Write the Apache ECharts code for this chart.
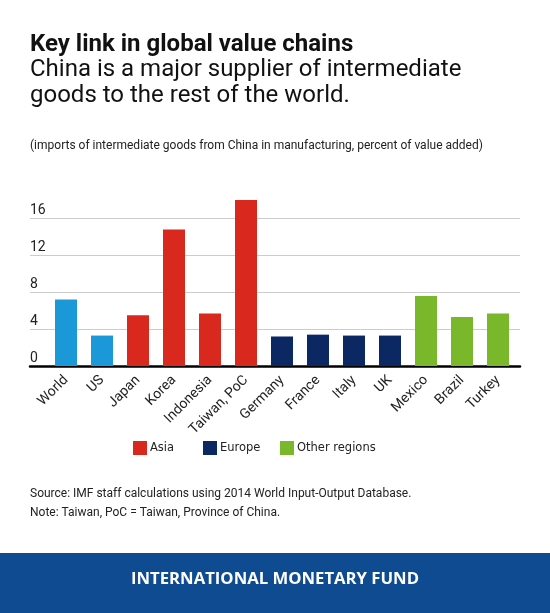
<!DOCTYPE html>
<html>
<head>
<meta charset="utf-8">
<script src="https://cdn.jsdelivr.net/npm/echarts@6/dist/echarts.min.js"></script>
<style>
html,body{margin:0;padding:0;background:#fff;}
#chart{width:550px;height:613px;}
</style>
</head>
<body>
<div id="chart"></div>
<script>
// ---- data ----
var categories = ['World','US','Japan','Korea','Indonesia','Taiwan, PoC','Germany','France','Italy','UK','Mexico','Brazil','Turkey'];
var regions    = ['Global','Global','Asia','Asia','Asia','Asia','Europe','Europe','Europe','Europe','Other regions','Other regions','Other regions'];
var values     = [7.2, 3.3, 5.5, 14.8, 5.7, 18.0, 3.2, 3.4, 3.3, 3.3, 7.6, 5.3, 5.7];
var yTicks     = [0, 4, 8, 12, 16];

var regionColors = {
  'Global': '#1b98d8',
  'Asia': '#d9281e',
  'Europe': '#0b2862',
  'Other regions': '#78b82a'
};
var seriesOrder = ['Global','Asia','Europe','Other regions'];

function seriesData(region){
  return values.map(function(v,i){ return regions[i]===region ? v : null; });
}

var chart = echarts.init(document.getElementById('chart'), null, {renderer:'canvas'});

var plotTop = 200, plotBottom = 247;

var series = seriesOrder.map(function(r){
  return {
    name: r,
    type: 'bar',
    xAxisIndex: 1,
    yAxisIndex: 1,
    stack: 'all',
    barWidth: 22,
    itemStyle: {color: regionColors[r]},
    data: seriesData(r)
  };
});

function legendAt(name, left){
  return {
    data: [{name: name, icon: 'rect'}],
    left: left, top: 441,
    padding: 0,
    itemWidth: 14, itemHeight: 14,
    itemGap: 0,
    selectedMode: false,
    textStyle: {fontFamily: 'DejaVu Sans', fontSize: 11.5, color: '#222', padding: [0,0,0,-2]}
  };
}

var option = {
  animation: false,
  backgroundColor: '#ffffff',
  title: [
    {text: 'Key link in global value chains', left: 30, top: 33, padding: 0,
     textStyle: {fontFamily: 'Roboto', fontWeight: 'bold', fontSize: 24, color: '#111'}},
    {text: 'China is a major supplier of intermediate\ngoods to the rest of the world.', left: 30, top: 57, padding: 0,
     textStyle: {fontFamily: 'Roboto', fontWeight: 'normal', fontSize: 24, lineHeight: 26, color: '#111'}},
    {text: '(imports of intermediate goods from China in manufacturing, percent of value added)', left: 30, top: 140, padding: 0,
     textStyle: {fontFamily: 'Roboto', fontWeight: 'normal', fontSize: 12, color: '#222'}},
    {text: 'Source: IMF staff calculations using 2014 World Input-Output Database.', left: 30, top: 488, padding: 0,
     textStyle: {fontFamily: 'Roboto', fontWeight: 'normal', fontSize: 12, color: '#222'}},
    {text: 'Note: Taiwan, PoC = Taiwan, Province of China.', left: 30, top: 507, padding: 0,
     textStyle: {fontFamily: 'Roboto', fontWeight: 'normal', fontSize: 12, color: '#222'}}
  ],
  legend: [
    legendAt('Asia', 133),
    legendAt('Europe', 203),
    legendAt('Other regions', 280)
  ],
  grid: [
    {left: 30, right: 30, top: plotTop, bottom: plotBottom, containLabel: false},
    {left: 48, right: 34, top: plotTop, bottom: plotBottom, containLabel: false}
  ],
  xAxis: [
    {type: 'value', gridIndex: 0, min: 0, max: 1,
     axisLine: {show: true, onZero: false, lineStyle: {color: '#000', width: 2.5}},
     axisTick: {show: false}, axisLabel: {show: false}, splitLine: {show: false}},
    {type: 'category', gridIndex: 1, data: categories,
     axisLine: {show: false}, axisTick: {show: false},
     axisLabel: {interval: 0, rotate: 45, margin: 12, fontFamily: 'Roboto', fontSize: 14, color: '#222'}}
  ],
  yAxis: [
    {type: 'value', gridIndex: 0, min: 0, max: 18, interval: 4,
     axisLine: {show: false}, axisTick: {show: false},
     splitLine: {show: true, showMaxLine: false, lineStyle: {color: '#cccccc', width: 1}},
     axisLabel: {show: true, align: 'left', verticalAlign: 'bottom', margin: 0,
                 padding: [0,0,1,0],
                 fontFamily: 'Roboto', fontSize: 14, color: '#222',
                 customValues: yTicks}},
    {type: 'value', gridIndex: 1, min: 0, max: 18, show: false}
  ],
  graphic: [
    {type: 'rect', left: 0, top: 553, shape: {width: 550, height: 60}, style: {fill: '#0e4b90'}, z: 0},
    {type: 'text', left: 'center', top: 571,
     style: {text: 'INTERNATIONAL MONETARY FUND', fill: '#ffffff', font: 'bold 16.7px "Open Sans"'}}
  ],
  series: series
};

chart.setOption(option);
</script>
</body>
</html>
